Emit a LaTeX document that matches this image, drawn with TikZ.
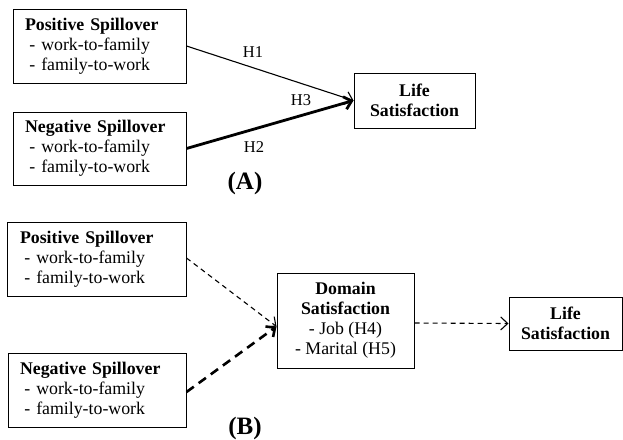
\documentclass[tikz,border=0pt]{standalone}
\usepackage{fontspec}
\setmainfont{Liberation Serif}
\usetikzlibrary{arrows.meta}
\newcommand{\itm}{\hspace*{4.4pt}- }
\begin{document}
\begin{tikzpicture}[x=1pt,y=-1pt,
  box/.style={draw, line width=1pt, rectangle, inner ysep=0pt, align=left,
    font=\fontsize{17.8}{20}\selectfont, anchor=center},
  cbox/.style={draw, line width=1pt, rectangle, inner sep=0pt, align=center,
    font=\fontsize{17.8}{20}\selectfont\bfseries, anchor=center},
  hlab/.style={font=\fontsize{16.5}{18}\selectfont, inner sep=0pt},
  panel/.style={font=\fontsize{25}{28}\selectfont\bfseries, inner sep=0pt},
  arr/.style={-{Straight Barb[length=7pt,width=13pt]}},
  thin/.style={line width=1.1pt},
  thick/.style={line width=2.8pt},
  sdash/.style={line width=1.1pt, dash pattern=on 5pt off 4pt},
  tdash/.style={line width=2.6pt, dash pattern=on 9pt off 6pt}
]
\useasboundingbox (0,0) rectangle (623,439);

% Panel A
\node[box, minimum width=173pt, minimum height=74pt, text width=149pt, inner xsep=12pt] (pA) at (99.5,46)
  {\textbf{Positive Spillover}\\\itm work-to-family\\\itm family-to-work};
\node[box, minimum width=173pt, minimum height=73pt, text width=149pt, inner xsep=12pt] (nA) at (99.5,148.5)
  {\textbf{Negative Spillover}\\\itm work-to-family\\\itm family-to-work};
\node[cbox, minimum width=121pt, minimum height=55pt] (lA) at (414.5,100.5)
  {Life\\Satisfaction};

\draw[arr, thin] (pA.east) -- (lA.west);
\draw[arr, thick] (nA.east) -- (lA.west);

\node[hlab] (h1) at (253,52) {H1};
\node[hlab] (h3) at (301,100) {H3};
\node[hlab] (h2) at (254,147) {H2};
\node[panel] (pa) at (245,183) {(A)};

% Panel B
\node[box, minimum width=179pt, minimum height=74pt, text width=153pt, inner xsep=13pt] (pB) at (96.5,259)
  {\textbf{Positive Spillover}\\\itm work-to-family\\\itm family-to-work};
\node[box, minimum width=178pt, minimum height=74pt, text width=154pt, inner xsep=12pt] (nB) at (97,390)
  {\textbf{Negative Spillover}\\\itm work-to-family\\\itm family-to-work};
\node[cbox, minimum width=137pt, minimum height=95pt] (dom) at (345.5,320.5)
  {Domain\\Satisfaction\\\normalfont - Job (H4)\\\normalfont - Marital (H5)};
\node[cbox, minimum width=113pt, minimum height=53pt] (lB) at (565.5,323.5)
  {Life\\Satisfaction};

\draw[arr, sdash] ([yshift=1pt]pB.east) -- ([yshift=-6pt]dom.west);
\draw[arr, tdash] ([yshift=-2pt]nB.east) -- ([yshift=-6pt]dom.west);
\draw[arr, sdash] ([yshift=-2.5pt]dom.east) -- (lB.west);

\node[panel] (pb) at (245,428) {(B)};
\end{tikzpicture}
\end{document}
